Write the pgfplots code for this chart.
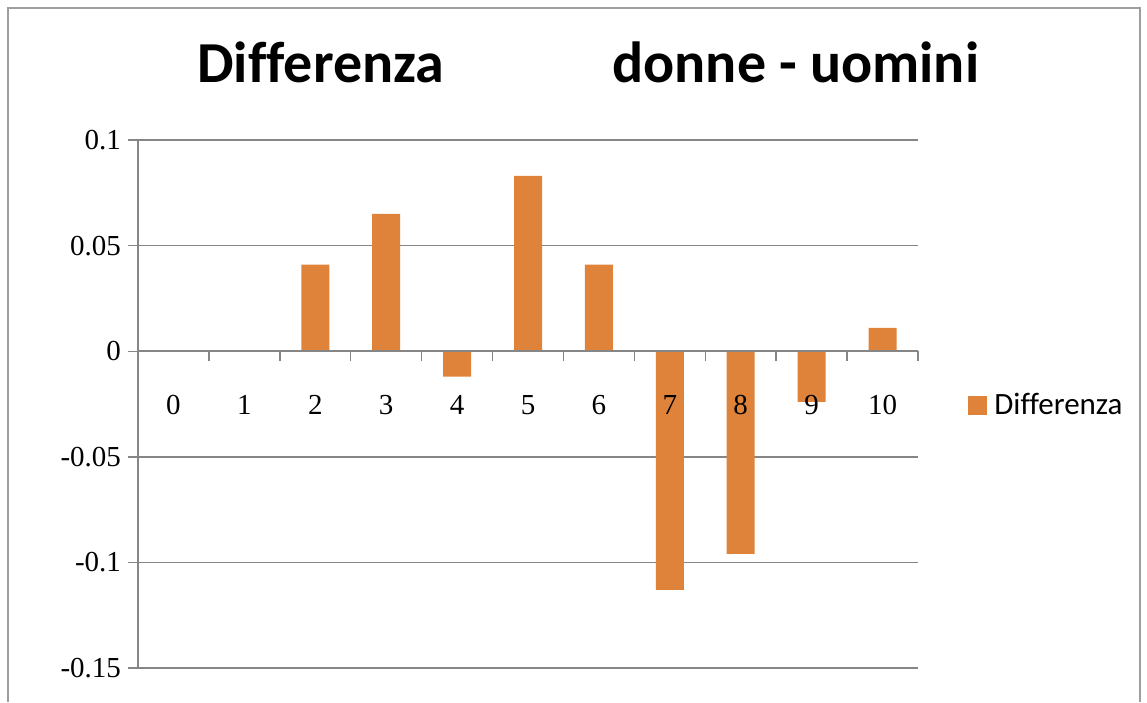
\documentclass[border=0pt]{standalone}
\usepackage{pgfplots}
\pgfplotsset{compat=1.18}
\usepackage{fontspec}
\setmainfont{Liberation Serif}
\newfontfamily\calibri[Ligatures=CommonOff]{Carlito}
\definecolor{barorange}{RGB}{224,131,58}
\definecolor{gridgray}{RGB}{134,134,134}
\pgfplotsset{
  plotbox/.style={at={(0,0)}, anchor=south west,
    scale only axis, width=390pt, height=264pt,
    xmin=-0.5, xmax=10.5, ymin=-0.15, ymax=0.1},
  plotlines/.style={axis line style={-, gridgray, line width=0.7pt},
    tick align=outside, major tick length=5pt, minor tick length=5pt},
}

\begin{document}
\begin{tikzpicture}[x=1pt,y=1pt]
% frame round the chart
\draw[gridgray!80, line width=0.7pt] (-65,-17) -- (-65,330) -- (501,330) -- (501,-17);
% title
\node[anchor=base west, inner sep=0pt, font=\calibri\bfseries\fontsize{29}{30}\selectfont] at (29.5,292.5) {Differenza};
\node[anchor=base west, inner sep=0pt, font=\calibri\bfseries\fontsize{29}{30}\selectfont] at (237,292.5) {donne - uomini};
% grid, y axis, bars and legend
\begin{axis}[
  plotbox,
  axis x line=none, axis y line=left,
  plotlines,
  ybar, bar width=14pt,
  ytick={-0.15,-0.1,-0.05,0,0.05,0.1},
  yticklabels={-0.15,-0.1,-0.05,0,0.05,0.1},
  y tick style={gridgray, line width=0.7pt},
  ymajorgrids, grid style={gridgray, line width=0.7pt},
  yticklabel style={font=\fontsize{14.5}{14.5}\selectfont},
  legend style={draw=none, fill=none, inner sep=0pt,
    at={(axis description cs:1,0.498)}, anchor=west, xshift=25pt,
    font=\calibri\fontsize{15.5}{16}\selectfont},
  legend image code/.code={\fill[barorange] (0pt,-4.75pt) rectangle (9.5pt,4.75pt);},
  clip=false,
]
\addplot[fill=barorange, draw=none] coordinates {
  (0,0) (1,0) (2,0.041) (3,0.065) (4,-0.012) (5,0.083)
  (6,0.041) (7,-0.113) (8,-0.096) (9,-0.024) (10,0.011)
};
\addlegendentry{\hspace{1.5pt}Differenza}
\end{axis}
% x axis at zero, its ticks and labels, above the bars
\begin{axis}[
  plotbox,
  axis x line=middle, axis y line=none,
  plotlines,
  xtick={0,...,10},
  xticklabels={0,1,2,3,4,5,6,7,8,9,10},
  minor xtick={-0.5,0.5,...,10.5},
  major x tick style={draw=none},
  minor x tick style={gridgray, line width=0.7pt},
  ytick=\empty,
  xticklabel style={font=\fontsize{14.5}{14.5}\selectfont, yshift=-13.5pt},
]
\end{axis}
\useasboundingbox (-69,-16) rectangle (504.5,334);
\end{tikzpicture}
\end{document}
